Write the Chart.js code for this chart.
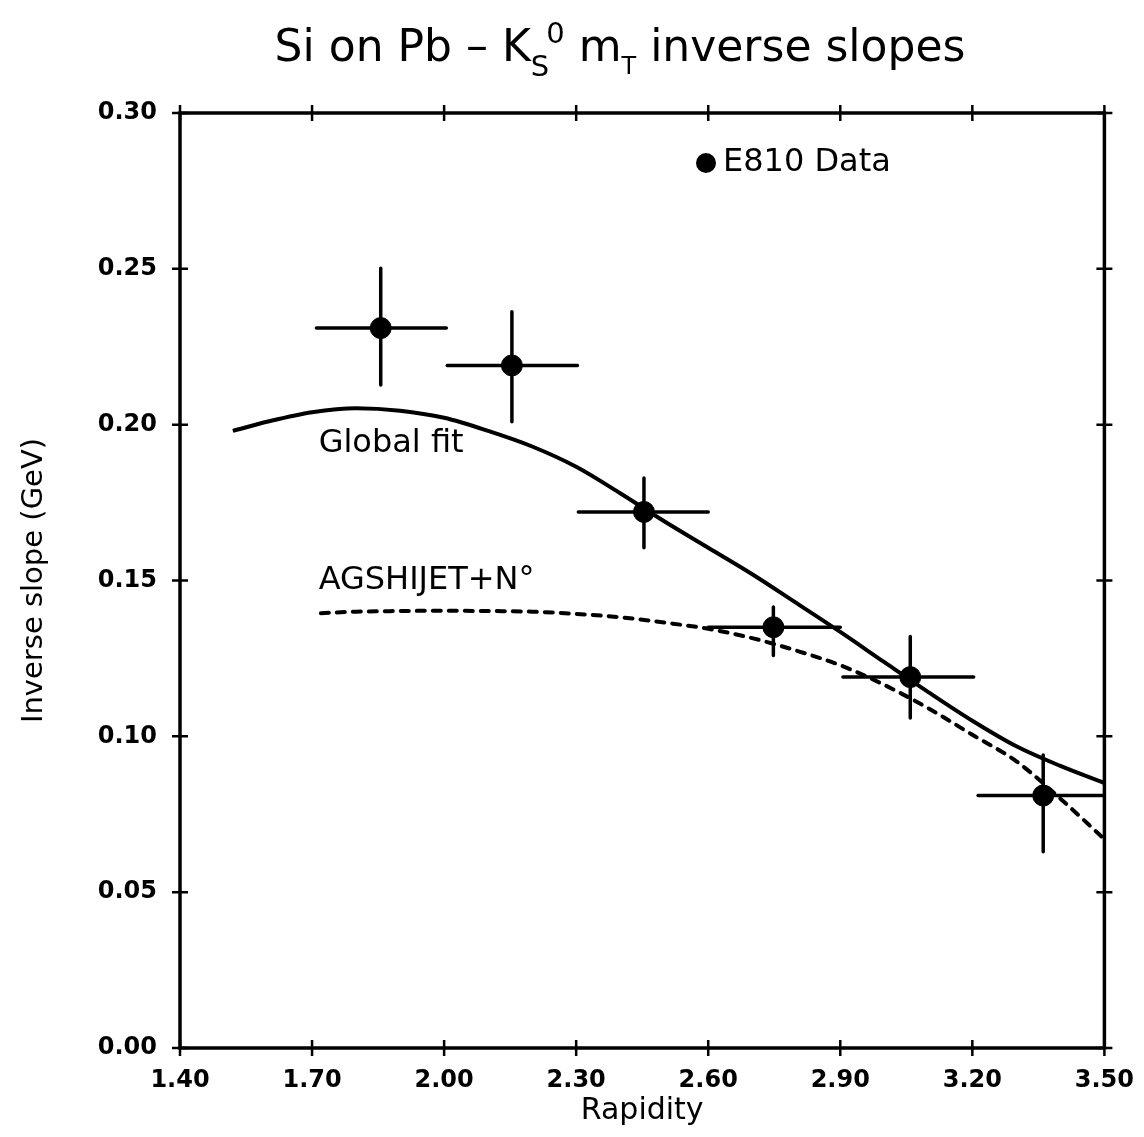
<!DOCTYPE html>
<html>
<head>
<meta charset="utf-8">
<script src="https://cdn.jsdelivr.net/npm/chart.js@4.4.1/dist/chart.umd.min.js"></script>
<style>
html, body { margin: 0; background: #fff; }
#wrap { width: 1144px; height: 1137px; }
</style>
</head>
<body>
<div id="wrap"><canvas id="c"></canvas></div>
<script>
// E810 data points with their bin widths and errors
const rapidity = [1.856, 2.154, 2.454, 2.748, 3.059, 3.361];
const slope = [0.231, 0.219, 0.172, 0.135, 0.119, 0.081];
const rapLo = [1.71, 2.007, 2.305, 2.60, 2.906, 3.213];
const rapHi = [2.005, 2.303, 2.60, 2.90, 3.203, 3.50];
const slopeLo = [0.2127, 0.2009, 0.1605, 0.1259, 0.1059, 0.063];
const slopeHi = [0.2502, 0.2362, 0.1829, 0.1415, 0.1320, 0.094];

// global fit curve
const fitX = [1.52, 1.60, 1.70, 1.80, 1.90, 2.00, 2.10, 2.20, 2.30, 2.40, 2.50, 2.60, 2.70, 2.80, 2.90, 3.00, 3.10, 3.20, 3.30, 3.40, 3.50];
const fitY = [0.198, 0.201, 0.204, 0.2053, 0.2045, 0.2022, 0.198, 0.193, 0.1865, 0.178, 0.169, 0.1605, 0.152, 0.1428, 0.1335, 0.1238, 0.1142, 0.105, 0.0968, 0.0905, 0.085];

// AGSHIJET+N* prediction
const agsX = [1.72, 1.80, 1.90, 2.00, 2.10, 2.20, 2.30, 2.40, 2.50, 2.60, 2.70, 2.80, 2.90, 3.00, 3.10, 3.20, 3.30, 3.40, 3.50];
const agsY = [0.1395, 0.140, 0.1402, 0.1403, 0.1402, 0.140, 0.1393, 0.1382, 0.1365, 0.1345, 0.1315, 0.1275, 0.1228, 0.1165, 0.109, 0.1005, 0.092, 0.080, 0.067];

const xTicks = [1.40, 1.70, 2.00, 2.30, 2.60, 2.90, 3.20, 3.50];
const yTicks = [0.00, 0.05, 0.10, 0.15, 0.20, 0.25, 0.30];

const FONT = '"DejaVu Sans", "Noto Sans", sans-serif';

const toXY = (xs, ys) => xs.map((x, i) => ({ x: x, y: ys[i] }));

const decor = {
  id: 'decor',
  beforeDatasetsDraw(chart) {
    const { ctx, scales: { x, y } } = chart;
    ctx.save();
    ctx.strokeStyle = '#000';
    ctx.lineWidth = 3.5;
    ctx.lineCap = 'round';
    for (let i = 0; i < rapidity.length; i++) {
      const px = x.getPixelForValue(rapidity[i]);
      const py = y.getPixelForValue(slope[i]);
      ctx.beginPath();
      ctx.moveTo(x.getPixelForValue(rapLo[i]), py);
      ctx.lineTo(x.getPixelForValue(rapHi[i]), py);
      ctx.moveTo(px, y.getPixelForValue(slopeLo[i]));
      ctx.lineTo(px, y.getPixelForValue(slopeHi[i]));
      ctx.stroke();
    }
    ctx.restore();
  },
  afterDraw(chart) {
    const { ctx, chartArea: a, scales: { x, y } } = chart;
    ctx.save();
    ctx.strokeStyle = '#000';
    ctx.fillStyle = '#000';

    // frame
    ctx.lineWidth = 3.5;
    ctx.strokeRect(a.left, a.top, a.right - a.left, a.bottom - a.top);

    // tick marks crossing every side
    ctx.lineWidth = 2.5;
    ctx.beginPath();
    xTicks.forEach(v => {
      const px = x.getPixelForValue(v);
      ctx.moveTo(px, a.top - 8); ctx.lineTo(px, a.top + 8);
      ctx.moveTo(px, a.bottom - 8); ctx.lineTo(px, a.bottom + 8);
    });
    yTicks.forEach(v => {
      const py = y.getPixelForValue(v);
      ctx.moveTo(a.left - 8, py); ctx.lineTo(a.left + 8, py);
      ctx.moveTo(a.right - 8, py); ctx.lineTo(a.right + 8, py);
    });
    ctx.stroke();

    // curve labels
    ctx.font = '32px ' + FONT;
    ctx.textBaseline = 'middle';
    ctx.textAlign = 'left';
    ctx.fillText('Global fit', x.getPixelForValue(1.715), y.getPixelForValue(0.194));
    ctx.fillText('AGSHIJET+N°', x.getPixelForValue(1.715), y.getPixelForValue(0.150));

    // legend
    ctx.beginPath();
    ctx.arc(706, 163, 10, 0, Math.PI * 2);
    ctx.fill();
    ctx.font = '32px ' + FONT;
    ctx.fillText('E810 Data', 723, 163);

    // title with sub/superscripts
    const parts = [
      { t: 'Si on Pb – K', size: 44, dy: 0, dx: 0 },
      { t: 'S', size: 29, dy: 15, dx: 0 },
      { t: '0', size: 29, dy: -18, dx: -3 },
      { t: ' m', size: 44, dy: 0, dx: 0 },
      { t: 'T', size: 24, dy: 13, dx: 0 },
      { t: ' inverse slopes', size: 44, dy: 0, dx: 0 }
    ];
    ctx.textBaseline = 'alphabetic';
    let total = 0;
    parts.forEach(p => {
      ctx.font = p.size + 'px ' + FONT;
      p.w = ctx.measureText(p.t).width;
      total += p.w + p.dx;
    });
    let cx = 620 - total / 2;
    parts.forEach(p => {
      ctx.font = p.size + 'px ' + FONT;
      cx += p.dx;
      ctx.fillText(p.t, cx, 61 + p.dy);
      cx += p.w;
    });
    ctx.restore();
  }
};

new Chart(document.getElementById('c'), {
  type: 'scatter',
  data: {
    datasets: [
      {
        label: 'Global fit',
        data: toXY(fitX, fitY),
        showLine: true,
        borderColor: '#000',
        borderWidth: 4,
        pointRadius: 0,
        cubicInterpolationMode: 'monotone'
      },
      {
        label: 'AGSHIJET+N°',
        data: toXY(agsX, agsY),
        showLine: true,
        borderColor: '#000',
        borderWidth: 4,
        borderDash: [8, 8],
        borderCapStyle: 'round',
        pointRadius: 0,
        cubicInterpolationMode: 'monotone'
      },
      {
        label: 'E810 Data',
        data: toXY(rapidity, slope),
        backgroundColor: '#000',
        borderColor: '#000',
        pointRadius: 10.5,
        pointHoverRadius: 10.5
      }
    ]
  },
  options: {
    responsive: true,
    maintainAspectRatio: false,
    animation: false,
    layout: { padding: { left: 0, right: 39, top: 113, bottom: 0 } },
    plugins: { legend: { display: false }, tooltip: { enabled: false } },
    scales: {
      x: {
        type: 'linear',
        min: 1.4,
        max: 3.5,
        afterBuildTicks: s => { s.ticks = xTicks.map(v => ({ value: v })); },
        afterFit: s => { s.height = 89; },
        grid: { display: false },
        border: { display: false },
        ticks: {
          color: '#000',
          padding: 10,
          maxRotation: 0,
          font: { family: FONT, size: 24, weight: 'bold' },
          callback: v => v.toFixed(2)
        },
        title: {
          display: true,
          text: 'Rapidity',
          color: '#000',
          padding: { top: 0, bottom: 8 },
          font: { family: FONT, size: 30 }
        }
      },
      y: {
        type: 'linear',
        min: 0,
        max: 0.3,
        afterBuildTicks: s => { s.ticks = yTicks.map(v => ({ value: v })); },
        afterFit: s => { s.width = 180; },
        grid: { display: false },
        border: { display: false },
        ticks: {
          color: '#000',
          padding: 15,
          font: { family: FONT, size: 24, weight: 'bold' },
          callback: v => v.toFixed(2)
        },
        title: {
          display: true,
          text: 'Inverse slope (GeV)',
          color: '#000',
          padding: { top: 17, bottom: 0 },
          font: { family: FONT, size: 29 }
        }
      }
    }
  },
  plugins: [decor]
});
</script>
</body>
</html>
